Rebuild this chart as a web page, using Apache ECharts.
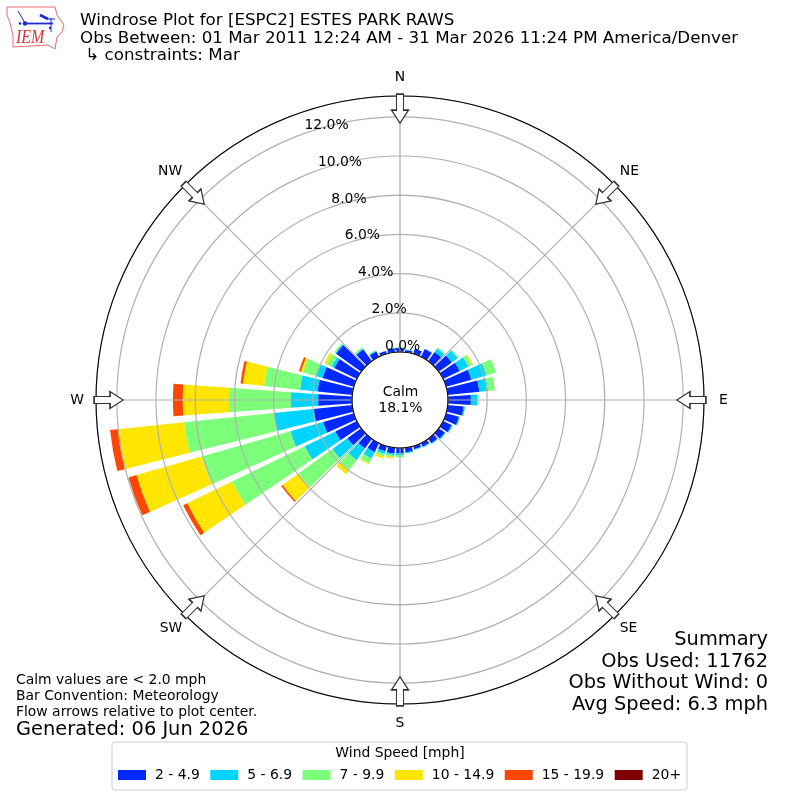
<!DOCTYPE html>
<html><head><meta charset="utf-8">
<style>html,body{margin:0;padding:0;background:#fff}#c{width:800px;height:800px}</style>
<script src="https://cdn.jsdelivr.net/npm/echarts@6/dist/echarts.min.js"></script>
</head><body><div id="c"></div>
<script>
var directions = [0,10,20,30,40,50,60,70,80,90,100,110,120,130,140,150,160,170,180,190,200,210,220,230,240,250,260,270,280,290,300,310,320,330,340,350];
var speedBins = ['2 - 4.9','5 - 6.9','7 - 9.9','10 - 14.9','15 - 19.9','20+'];
var binColors = ['#0028ff','#00d4ff','#7cff79','#ffe600','#ff4700','#7f0000'];
var v2to5   = [.20,.12,.27,.45,.57,.82,.94,1.34,1.62,1.17,.81,.68,.48,.38,.28,.20,.17,.24,.27,.30,.27,.51,.60,.87,1.22,1.63,1.99,1.73,1.78,1.66,1.28,1.58,.75,.30,.15,.20];
var v5to7   = [.03,.02,.00,.02,.22,.36,.49,.79,.45,.34,.07,.06,.06,.05,.05,.04,.03,.05,.09,.08,.14,.36,.74,.95,1.74,1.74,2.04,1.40,.90,.33,.15,.05,.05,.05,.02,.03];
var v7to10  = [.02,.00,.00,.00,.06,.06,.20,.51,.35,.05,.00,.00,.00,.00,.00,.00,.00,.02,.12,.10,.15,.28,.62,2.13,4.12,4.70,4.59,3.16,1.84,.70,.29,.07,.07,.03,.00,.00];
var v10to15 = [0,0,0,0,0,0,.06,0,0,0,0,0,0,0,0,0,0,0,0,.07,.09,.05,.26,1.00,2.54,3.46,3.41,2.35,1.08,.12,.13,0,0,0,0,0];
var v15to20 = [0,0,0,0,0,0,0,0,0,0,0,0,0,0,0,0,0,0,0,0,0,0,0,.08,.23,.43,.39,.50,.13,.10,0,0,0,0,0,0];
var v20plus = [0,0,0,0,0,0,0,0,0,0,0,0,0,0,0,0,0,0,0,0,0,0,0,0,0,0,0,0,0,0,0,0,0,0,0,0];
var binValues = [v2to5,v5to7,v7to10,v10to15,v15to20,v20plus];
var compassNames = {0:'{n|N}',45:'{r|NE}',90:'{e|E}',135:'{r|SE}',180:'{n|S}',225:'{l|SW}',270:'{w|W}',315:'{l|NW}'};
var arrowAngles = [0,45,90,135,180,225,270,315];
var arrowRadius = 12.42;
var radialMax = 13.06;
var titleLines = ['Windrose Plot for [ESPC2] ESTES PARK RAWS','Obs Between: 01 Mar 2011 12:24 AM - 31 Mar 2026 11:24 PM America/Denver',' \u21b3 constraints: Mar'];
var summaryLines = ['Summary','Obs Used: 11762','Obs Without Wind: 0','Avg Speed: 6.3 mph'];
var noteLines = ['Calm values are < 2.0 mph','Bar Convention: Meteorology','Flow arrows relative to plot center.'];
var generated = 'Generated: 06 Jun 2026';
var calmText = 'Calm\n18.1%';
var legendTitle = 'Wind Speed [mph]';

var FONT = '"DejaVu Sans"';
function txt(s,x,y,size,align,extra){
  return Object.assign({type:'text',z:20,silent:true,style:{text:s,x:x,y:y,fill:'#000',textAlign:align||'left',textVerticalAlign:'middle',font:size+'px '+FONT}},extra||{});
}
var graphics = [];
titleLines.forEach(function(s,i){graphics.push(txt(s,80,[21,38.5,56][i],16.7));});
summaryLines.forEach(function(s,i){graphics.push(txt(s,768,[640,662,683,705][i],19.4,'right'));});
noteLines.forEach(function(s,i){graphics.push(txt(s,16,[680,696,712][i],13.9));});
graphics.push(txt(generated,16,730,19.4));
graphics.push(txt(legendTitle,400,753,13.9,'center'));
graphics.push({type:'text',z:20,silent:true,style:{text:calmText,x:400.5,y:400,fill:'#000',align:'center',verticalAlign:'middle',textAlign:'center',textVerticalAlign:'middle',font:'13.9px '+FONT,lineHeight:16}});
// IEM logo
var LOGO_BLUE='#1a2bd0';
graphics.push({type:'polyline',z:20,silent:true,shape:{points:[[7,7],[55,7],[57,15],[64,25],[62,32],[57,37],[55,49],[48,45],[13,47],[13,35],[10,23],[7,15],[7,7]]},style:{stroke:'#e46a6a',lineWidth:1,fill:'none'}});
graphics.push({type:'line',z:20,silent:true,shape:{x1:25,y1:23.5,x2:53,y2:23.5},style:{stroke:LOGO_BLUE,lineWidth:1.8}});
graphics.push({type:'line',z:20,silent:true,shape:{x1:18,y1:11,x2:25,y2:23},style:{stroke:LOGO_BLUE,lineWidth:1}});
graphics.push({type:'line',z:20,silent:true,shape:{x1:40,y1:15,x2:48,y2:19},style:{stroke:LOGO_BLUE,lineWidth:2.8}});
graphics.push({type:'line',z:20,silent:true,shape:{x1:47,y1:19,x2:55,y2:19},style:{stroke:LOGO_BLUE,lineWidth:1}});
graphics.push({type:'line',z:20,silent:true,shape:{x1:51,y1:18,x2:51,y2:32},style:{stroke:LOGO_BLUE,lineWidth:1}});
graphics.push({type:'circle',z:20,silent:true,shape:{cx:25,cy:23.5,r:2.2},style:{fill:LOGO_BLUE}});
graphics.push({type:'circle',z:20,silent:true,shape:{cx:20,cy:23.5,r:1.3},style:{fill:LOGO_BLUE}});
graphics.push({type:'circle',z:20,silent:true,shape:{cx:50,cy:28,r:1.2},style:{fill:LOGO_BLUE}});
graphics.push({type:'text',z:20,silent:true,originX:16,originY:38,scaleY:1.2,style:{text:'IEM',x:16,y:38,fill:'#d8333a',textVerticalAlign:'middle',font:'italic 16px "Liberation Serif"'}});

var series = speedBins.map(function(name,i){
  return {type:'bar',name:name,coordinateSystem:'polar',polarIndex:0,stack:'wind',barWidth:'82%',
    itemStyle:{color:binColors[i]},silent:true,data:binValues[i],z:2};
});
series.push({type:'scatter',coordinateSystem:'polar',polarIndex:1,silent:true,z:6,
  symbol:'path://M-3.5 29 L3.5 29 L3.5 13 L8.5 13 L0 0 L-8.5 13 L-3.5 13 Z',
  symbolSize:[17,29],
  itemStyle:{color:'#fff',borderColor:'#333',borderWidth:1.3,opacity:1},
  data:arrowAngles.map(function(a){return {value:[arrowRadius,a],symbolRotate:-(a+180)};})
});

var chart = echarts.init(document.getElementById('c'),null,{renderer:'canvas'});
var C=['400','400'], R=[48,304];
var cmp={fontSize:13.9,color:'#000',fontFamily:FONT};
chart.setOption({
  animation:false,
  backgroundColor:'#fff',
  textStyle:{fontFamily:FONT},
  polar:[{center:C,radius:R},{center:C,radius:R},{center:C,radius:[55.6,311.6]}],
  angleAxis:[
    {polarIndex:0,type:'category',data:directions,startAngle:95,clockwise:true,boundaryGap:true,
      axisLine:{show:false},axisTick:{show:false},axisLabel:{show:false},splitLine:{show:false}},
    {polarIndex:1,type:'value',min:0,max:360,interval:45,startAngle:90,clockwise:true,z:5,
      axisLine:{show:true,lineStyle:{color:'#000',width:1.1}},axisTick:{show:false},
      axisLabel:{show:true,margin:4,fontSize:13.9,color:'#000',fontFamily:FONT,
        formatter:function(v){return compassNames[v%360];},
        rich:{n:Object.assign({padding:[8,0,8,0]},cmp),e:Object.assign({padding:[0,0,0,11]},cmp),w:Object.assign({padding:[0,8,0,0]},cmp),
          r:Object.assign({padding:[4,0,4,2]},cmp),l:Object.assign({padding:[4,0,4,0]},cmp)}},
      splitLine:{show:true,lineStyle:{color:'#b0b0b0',width:1.2}}},
    {polarIndex:2,type:'value',min:0,max:360,startAngle:110,clockwise:true,show:false}
  ],
  radiusAxis:[
    {polarIndex:0,type:'value',min:0,max:radialMax,axisLine:{show:false},axisTick:{show:false},axisLabel:{show:false},splitLine:{show:false}},
    {polarIndex:1,type:'value',min:0,max:radialMax,interval:2,z:5,axisLine:{show:false},axisTick:{show:false},axisLabel:{show:false},
      splitLine:{show:true,lineStyle:{color:'#b0b0b0',width:1.2}}},
    {polarIndex:2,type:'value',min:0,max:radialMax,interval:2,z:7,axisLine:{show:false},axisTick:{show:false},splitLine:{show:false},
      axisLabel:{show:true,margin:-4.2,align:'left',verticalAlign:'middle',fontSize:13.9,color:'#000',fontFamily:FONT,
        showMaxLabel:false,formatter:function(v){return v<=12?v.toFixed(1)+'%':'';}}}
  ],
  legend:{show:true,left:112,top:742,orient:'horizontal',padding:[26,6,8,6],itemWidth:28,itemHeight:10,itemGap:10.5,
    borderColor:'#ccc',borderWidth:1,borderRadius:3,selectedMode:false,icon:'rect',
    textStyle:{fontSize:13.9,color:'#000',fontFamily:FONT,padding:[0,0,0,4]},data:speedBins},
  graphic:{elements:graphics},
  series:series
});
</script></body></html>
